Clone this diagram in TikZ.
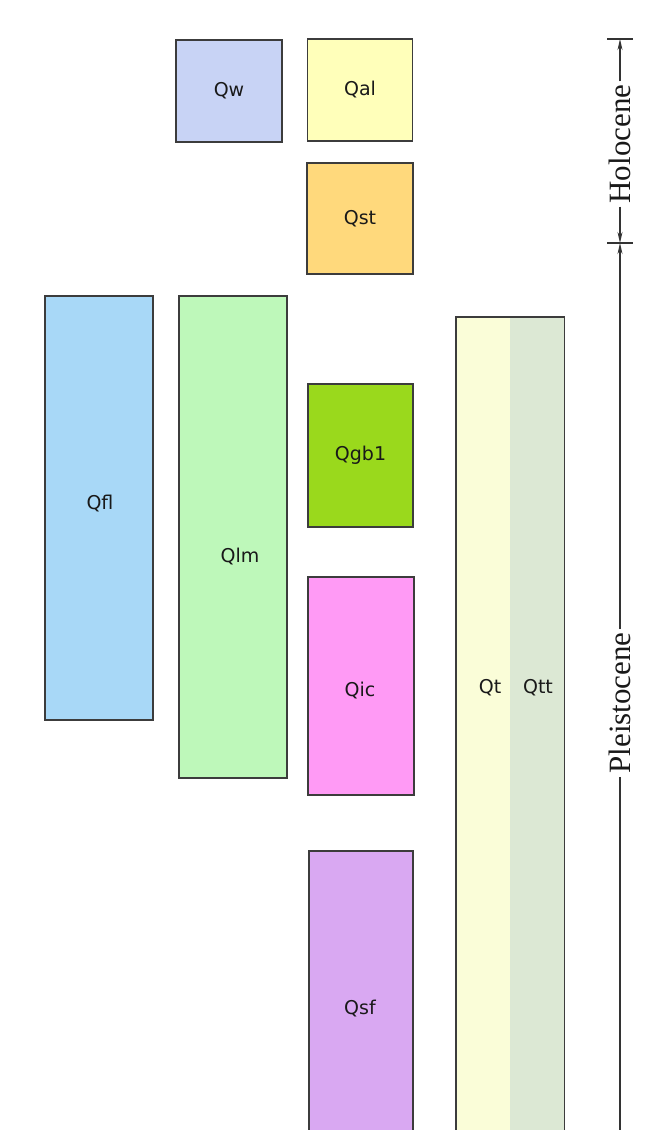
\documentclass[tikz,border=0pt]{standalone}
\usepackage{fontspec}
\setmainfont{Liberation Serif}
\newfontfamily\boxfont{DejaVu Sans}
\usetikzlibrary{arrows.meta}
\definecolor{cQw}{HTML}{C8D3F5}
\definecolor{cQal}{HTML}{FFFFBA}
\definecolor{cQst}{HTML}{FFD97C}
\definecolor{cQfl}{HTML}{A8D8F7}
\definecolor{cQlm}{HTML}{BEF8BA}
\definecolor{cQgb}{HTML}{9AD91C}
\definecolor{cQic}{HTML}{FF9AF5}
\definecolor{cQsf}{HTML}{D9A8F2}
\definecolor{cQt}{HTML}{FAFDD8}
\definecolor{cQtt}{HTML}{DCE8D4}
\definecolor{edge}{HTML}{3C3C3C}
\tikzset{
  unit/.style={draw=edge, line width=1.6pt, inner sep=0pt, font=\boxfont\fontsize{19}{19}\selectfont, text=black!90},
  plain/.style={inner sep=0pt, font=\boxfont\fontsize{19}{19}\selectfont, text=black!90},
  era/.style={rotate=90, inner sep=3pt, font=\fontsize{31}{31}\selectfont, text=black!90},
  tl/.style={line width=1.4pt, draw=black!80},
  tlarrow/.style={tl, -{Stealth[length=11pt,width=5pt]}},
  tick/.style={line width=1.4pt, draw=black!80}
}
\begin{document}
\begin{tikzpicture}[x=1pt,y=-1pt]
\useasboundingbox (0,0) rectangle (661,1130);
% Holocene units
\node[unit, fill=cQw, minimum width=106pt, minimum height=102pt] (qw) at (229,91) {Qw};
\node[unit, fill=cQal, minimum width=105pt, minimum height=102pt] (qal) at (360,90) {Qal};
\node[unit, fill=cQst, minimum width=106pt, minimum height=111pt] (qst) at (360,218.5) {Qst};
% Pleistocene units
\node[unit, fill=cQfl, minimum width=108pt, minimum height=424pt] (qfl) at (99,508) {};
\node[plain] (qfllab) at (100,503) {Qfl};
\node[unit, fill=cQlm, minimum width=108pt, minimum height=482pt] (qlm) at (233,537) {};
\node[plain] (qlmlab) at (240,556) {Qlm};
\node[unit, fill=cQgb, minimum width=105pt, minimum height=143pt] (qgb) at (360.5,455.5) {Qgb1};
\node[unit, fill=cQic, minimum width=106pt, minimum height=218pt] (qic) at (361,686) {};
\node[plain] (qiclab) at (360,690) {Qic};
\node[unit, fill=cQsf, minimum width=104pt, minimum height=300pt] (qsf) at (361,1001) {};
\node[plain] (qsflab) at (360,1008) {Qsf};
% Qt / Qtt column
\node[plain, fill=cQt, minimum width=54pt, minimum height=830pt, anchor=north west] (qt) at (456,317) {};
\node[plain, fill=cQtt, minimum width=54pt, minimum height=830pt, anchor=north west] (qtt) at (510,317) {};
\draw[draw=edge, line width=1.6pt] (qt.south west) -- (qt.north west) -- (qtt.north east) -- (qtt.south east);
\node[plain] (qtlab) at (490,688) {Qt};
\node[plain] (qttlab) at (538,688) {Qtt};
% time scale
\coordinate (t0) at (620,39);
\coordinate (t1) at (620,243);
\coordinate (tb) at (620,1140);
\draw[tick] (607,39) -- (633,39);
\draw[tick] (607,243) -- (633,243);
\node[era] (hol) at (620,144) {Holocene};
\node[era] (pls) at (620,703) {Pleistocene};
\draw[tlarrow] (hol.east) -- (t0);
\draw[tlarrow] (hol.west) -- (t1);
\draw[tlarrow] (pls.east) -- (t1);
\draw[tl] (pls.west) -- (tb);
\end{tikzpicture}
\end{document}
